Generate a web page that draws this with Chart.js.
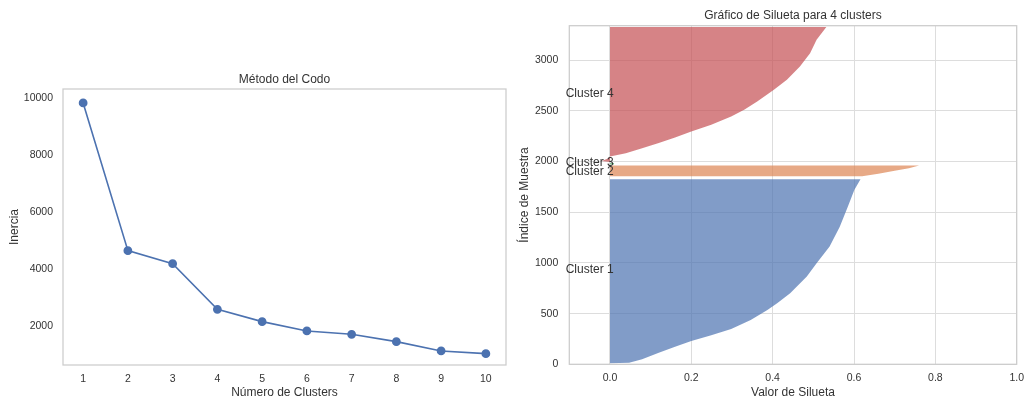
<!DOCTYPE html>
<html>
<head>
<meta charset="utf-8">
<script src="https://cdn.jsdelivr.net/npm/chart.js@4.4.1/dist/chart.umd.min.js"></script>
<style>
  body { margin: 0; background: #fff; }
  #wrap { position: relative; width: 1032px; height: 400px; }
  canvas { position: absolute; top: 0; }
</style>
</head>
<body>
<div id="wrap">
  <canvas id="elbowChart" width="516" height="400" style="left:0"></canvas>
  <canvas id="silChart" width="516" height="400" style="left:516px"></canvas>
</div>
<script>
// left: elbow method
const clusterCounts = [1, 2, 3, 4, 5, 6, 7, 8, 9, 10];
const inertia = [9825, 4643, 4187, 2585, 2152, 1825, 1708, 1450, 1123, 1029];
const elbowYTicks = [2000, 4000, 6000, 8000, 10000];

// right: silhouette profile per cluster (silhouette value, sample index)
const cluster1Sil = [0, 0.047, 0.079, 0.120, 0.160, 0.200, 0.249, 0.298, 0.346, 0.387, 0.411, 0.443, 0.484, 0.508, 0.540, 0.565, 0.585, 0.601, 0.616, 0];
const cluster1Idx = [10, 15, 49, 115, 174, 230, 286, 349, 437, 536, 602, 701, 865, 997, 1161, 1358, 1556, 1721, 1825, 1825];
const cluster2Sil = [0, 0.62, 0.66, 0.70, 0.735, 0.76, 0];
const cluster2Idx = [1855, 1855, 1880, 1910, 1935, 1960, 1960];
const cluster3Sil = [0, 0.01, 0.01, 0];
const cluster3Idx = [1970, 1970, 1985, 1985];
const cluster4Sil = [0, -0.02, -0.005, 0, 0.039, 0.079, 0.120, 0.160, 0.200, 0.249, 0.298, 0.330, 0.362, 0.403, 0.435, 0.467, 0.492, 0.508, 0.532, 0];
const cluster4Idx = [1995, 2005, 2030, 2049, 2083, 2132, 2182, 2237, 2296, 2362, 2444, 2510, 2592, 2708, 2806, 2938, 3069, 3201, 3327, 3327];

const clusterNames = ['Cluster 1', 'Cluster 2', 'Cluster 3', 'Cluster 4'];
const labelIdx = [931, 1901, 1984, 2665];
const labelSil = -0.05;
const silXTicks = [0, 0.2, 0.4, 0.6, 0.8, 1.0];
const silYTicks = [0, 500, 1000, 1500, 2000, 2500, 3000];

const fontFamily = "'Liberation Sans', Arial, sans-serif";
const textColor = '#333333';
const tickFont = { family: fontFamily, size: 10.5 };
const labelFont = { family: fontFamily, size: 12 };

function fixSize(size) {
    return scale => {
        if (scale.isHorizontal()) scale.height = size;
        else scale.width = size;
    };
}
function setTicks(values) {
    return scale => { scale.ticks = values.map(v => ({ value: v })); };
}
function toPoints(xs, ys) {
    return xs.map((x, i) => ({ x: x, y: ys[i] }));
}

// axes frame like the matplotlib spines
const framePlugin = {
    id: 'frame',
    afterDatasetsDraw(chart) {
        const { ctx, chartArea: a } = chart;
        ctx.save();
        ctx.strokeStyle = '#cccccc';
        ctx.lineWidth = 1.25;
        ctx.strokeRect(a.left, a.top, a.right - a.left, a.bottom - a.top);
        ctx.restore();
    }
};

const clusterLabelPlugin = {
    id: 'clusterLabels',
    afterDraw(chart) {
        const { ctx, scales } = chart;
        ctx.save();
        ctx.font = '12px ' + fontFamily;
        ctx.fillStyle = textColor;
        ctx.textAlign = 'center';
        ctx.textBaseline = 'middle';
        clusterNames.forEach((name, i) => {
            ctx.fillText(name, scales.x.getPixelForValue(labelSil), scales.y.getPixelForValue(labelIdx[i]));
        });
        ctx.restore();
    }
};

Chart.defaults.color = textColor;
Chart.defaults.animation = false;

new Chart(document.getElementById('elbowChart'), {
    type: 'scatter',
    data: {
        datasets: [{
            data: toPoints(clusterCounts, inertia),
            showLine: true,
            borderColor: '#4C72B0',
            backgroundColor: '#4C72B0',
            borderWidth: 1.6,
            pointRadius: 3.6,
            pointHoverRadius: 3.6
        }]
    },
    options: {
        responsive: false,
        devicePixelRatio: 1,
        layout: { padding: { left: 0, right: 10, top: 60, bottom: 0 } },
        plugins: {
            legend: { display: false },
            tooltip: { enabled: false },
            title: {
                display: true,
                text: 'Método del Codo',
                fullSize: false,
                color: textColor,
                font: { family: fontFamily, size: 12, weight: 'normal' },
                padding: { top: 12.8, bottom: 1.8 }
            }
        },
        scales: {
            x: {
                type: 'linear',
                min: 0.55,
                max: 10.45,
                afterFit: fixSize(35),
                afterBuildTicks: setTicks(clusterCounts),
                grid: { display: false, drawTicks: false },
                border: { display: false },
                ticks: { font: tickFont, padding: 8, callback: v => String(v) },
                title: { display: true, text: 'Número de Clusters', font: labelFont, padding: { top: 0, bottom: 0 } }
            },
            y: {
                type: 'linear',
                min: 630,
                max: 10315,
                afterFit: fixSize(63),
                afterBuildTicks: setTicks(elbowYTicks),
                grid: { display: false, drawTicks: false },
                border: { display: false },
                ticks: { font: tickFont, padding: 10, callback: v => String(v) },
                title: { display: true, text: 'Inercia', font: labelFont, padding: { top: 7, bottom: 0 } }
            }
        }
    },
    plugins: [framePlugin]
});

function silDataset(xs, ys, color) {
    return {
        data: toPoints(xs, ys),
        showLine: true,
        fill: 'shape',
        backgroundColor: color,
        borderWidth: 0,
        pointRadius: 0,
        pointHoverRadius: 0,
        tension: 0
    };
}

new Chart(document.getElementById('silChart'), {
    type: 'scatter',
    data: {
        datasets: [
            silDataset(cluster1Sil, cluster1Idx, 'rgba(76, 114, 176, 0.7)'),
            silDataset(cluster2Sil, cluster2Idx, 'rgba(221, 132, 82, 0.7)'),
            silDataset(cluster3Sil, cluster3Idx, 'rgba(85, 168, 104, 0.7)'),
            silDataset(cluster4Sil, cluster4Idx, 'rgba(196, 78, 82, 0.7)')
        ]
    },
    options: {
        responsive: false,
        devicePixelRatio: 1,
        layout: { padding: { left: 0, right: 9.3, top: 0, bottom: 0 } },
        plugins: {
            legend: { display: false },
            tooltip: { enabled: false },
            title: {
                display: true,
                text: 'Gráfico de Silueta para 4 clusters',
                fullSize: false,
                color: textColor,
                font: { family: fontFamily, size: 12, weight: 'normal' },
                padding: { top: 8.8, bottom: 2.5 }
            }
        },
        scales: {
            x: {
                type: 'linear',
                min: -0.1,
                max: 1.0,
                afterFit: fixSize(35.7),
                afterBuildTicks: setTicks(silXTicks),
                grid: { color: '#dddddd', lineWidth: 1, drawTicks: false },
                border: { display: false },
                ticks: { font: tickFont, padding: 8, callback: v => v.toFixed(1) },
                title: { display: true, text: 'Valor de Silueta', font: labelFont, padding: { top: 0, bottom: 0 } }
            },
            y: {
                type: 'linear',
                min: 0,
                max: 3340,
                afterFit: fixSize(53.3),
                afterBuildTicks: setTicks(silYTicks),
                grid: { color: '#dddddd', lineWidth: 1, drawTicks: false },
                border: { display: false },
                ticks: { font: tickFont, padding: 11, callback: v => String(v) },
                title: { display: true, text: 'Índice de Muestra', font: labelFont, padding: { top: 1, bottom: 0 } }
            }
        }
    },
    plugins: [framePlugin, clusterLabelPlugin]
});
</script>
</body>
</html>
